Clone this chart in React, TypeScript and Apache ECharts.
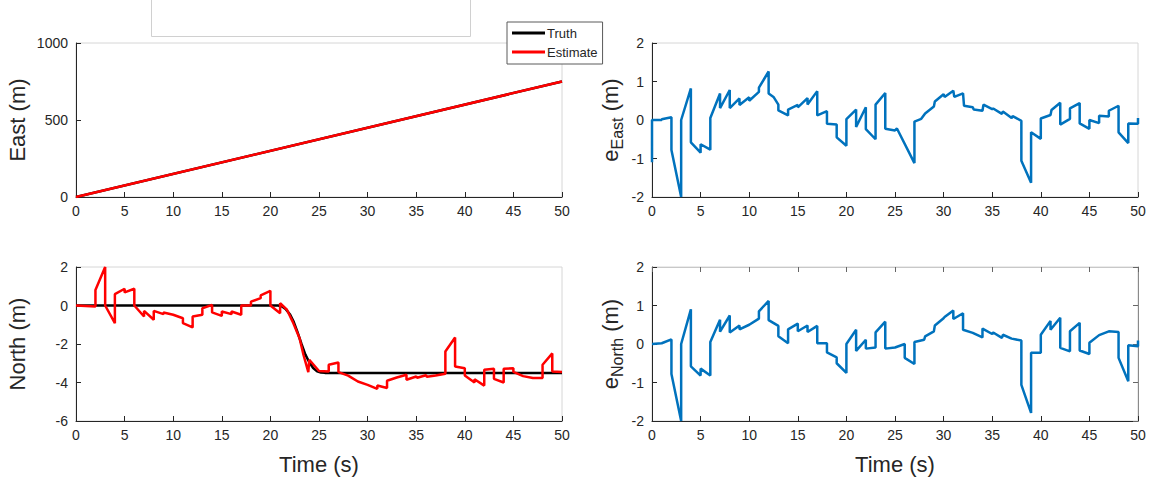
import React, { useEffect, useRef } from "react";
import * as echarts from "echarts";

// ---- data (time s, value m) ----
const eastTruth: number[][] = [[0, 0], [50, 750]];
const eastEstimate: number[][] = [[0, 0], [50, 750]];

const northTruth: number[][] = [
  [0, 0], [20.8, 0], [21.2, -0.05], [21.6, -0.2], [22, -0.45], [22.4, -0.85], [22.8, -1.4],
  [23.2, -2.0], [23.6, -2.55], [24, -2.95], [24.4, -3.25], [24.8, -3.42], [25.2, -3.48],
  [25.6, -3.5], [50, -3.5],
];

const northEstimate: number[][] = [
  [0, 0], [2, -0.05], [2, 0.81], [3, 2.0], [3, 0], [4, -0.92], [4, 0.59], [5, 0.87], [5, 0.68],
  [6, 0.87], [6, 0], [7, -0.57], [7, -0.28], [8, -0.74], [8, -0.28], [9, -0.45], [9, -0.36],
  [10, -0.48], [11, -0.66], [11, -0.92], [12, -1.14], [12, -0.57], [13, -0.48], [13, -0.14],
  [14, 0.03], [14, -0.36], [15, -0.54], [15, -0.31], [16, -0.45], [16, -0.31], [17, -0.48],
  [17, 0], [18, 0], [18, 0.2], [19, 0.38], [19, 0.52], [20, 0.76], [20, 0], [21, -0.4],
  [21, 0.12], [21.7, -0.22], [22.3, -0.85], [23, -1.7], [23.4, -2.56], [23.9, -3.46],
  [24, -2.82], [25, -3.4], [26, -3.43], [26, -3.08], [27, -2.96], [27, -3.46], [28, -3.64],
  [29, -3.95], [30, -4.12], [31, -4.33], [31, -4.16], [32, -4.29], [32, -3.91], [33, -3.74],
  [34, -3.6], [34, -3.86], [35, -3.69], [35.1, -3.75], [36, -3.62], [36.1, -3.7], [37, -3.64],
  [38, -3.55], [38, -2.39], [39, -1.66], [39, -3.17], [40, -3.26], [40, -3.64], [41, -4.0],
  [41, -3.83], [42, -4.16], [42, -3.34], [43, -3.29], [43, -3.81], [44, -4.0], [44, -3.29],
  [45, -3.26], [45, -3.45], [46, -3.67], [47, -3.77], [48, -3.77], [48, -3.08], [49, -2.49],
  [49, -3.43], [50, -3.46],
];

const eEast: number[][] = [
  [0, -1.1], [0, 0], [1, 0], [1, 0.02], [2, 0.07], [2, -0.78], [3, -2.0], [3, 0], [4, 0.82],
  [4, -0.58], [5, -0.85], [5, -0.63], [6, -0.77], [6, 0.05], [7, 0.69], [7, 0.31], [8, 0.78],
  [8, 0.31], [9, 0.56], [9, 0.39], [10, 0.59], [10, 0.5], [11, 0.73], [11, 0.84], [12, 1.26],
  [12, 0.69], [12.5, 0.6], [13, 0.4], [13, 0.25], [14, 0.12], [14, 0.27], [15, 0.39], [15, 0.33],
  [16, 0.57], [16, 0.4], [17, 0.75], [17, 0.12], [18, 0.23], [18, -0.1], [19, -0.12], [19, -0.45],
  [20, -0.67], [20, 0.02], [21, 0.27], [21, -0.18], [22, 0.33], [22, -0.24], [23, -0.5],
  [23, 0.4], [24, 0.7], [24, -0.23], [25, -0.27], [25.2, -0.22], [27, -1.12], [27, -0.04],
  [27.7, 0.03], [28.1, 0.17], [29, 0.35], [29.1, 0.48], [30, 0.67], [30.1, 0.6], [31, 0.76],
  [31.1, 0.6], [32, 0.69], [32.1, 0.37], [33, 0.33], [33.1, 0.27], [34, 0.24], [34.1, 0.4],
  [35, 0.28], [35.1, 0.3], [36, 0.16], [36.1, 0.22], [37, 0.05], [37.1, 0.1], [38, -0.02],
  [38, -1.06], [39, -1.63], [39, -0.32], [40, -0.49], [40, 0.04], [41, 0.13], [41.1, 0.26],
  [42, 0.45], [42, -0.12], [43, 0.03], [43, 0.3], [44, 0.44], [44, -0.09], [45, -0.23], [45, 0],
  [46, -0.08], [46, 0.11], [47, 0.09], [47, 0.24], [48, 0.37], [48, -0.32], [49, -0.6],
  [49, -0.09], [50, -0.1], [50, 0.05],
];

const eNorth: number[][] = [
  [0, 0], [1, 0.02], [2, 0.12], [2, -0.78], [3, -2.0], [3, 0], [4, 0.9], [4, -0.58], [5, -0.82],
  [5, -0.64], [6, -0.82], [6, 0.05], [7, 0.63], [7, 0.32], [8, 0.74], [8, 0.3], [9, 0.48],
  [9, 0.38], [10, 0.5], [11, 0.66], [11, 0.85], [12, 1.12], [12, 0.62], [13, 0.47], [13, 0.2],
  [14, 0.02], [14, 0.38], [15, 0.53], [15, 0.33], [16, 0.48], [16, 0.31], [17, 0.47], [17, 0.02],
  [18, 0.02], [18, -0.22], [19, -0.35], [19, -0.5], [20, -0.75], [20, 0], [21, 0.37], [21, -0.18],
  [22, 0.11], [22, -0.12], [23, -0.09], [23, 0.3], [24, 0.58], [24, -0.12], [25, -0.09], [26, 0],
  [26, -0.36], [27, -0.52], [27, 0.05], [28, 0.11], [28.1, 0.2], [29, 0.33], [29.1, 0.48],
  [30, 0.67], [30.1, 0.7], [31, 0.87], [31, 0.65], [32, 0.8], [32, 0.37], [33, 0.29], [34, 0.17],
  [34, 0.4], [35, 0.26], [35.1, 0.3], [36, 0.16], [36.1, 0.24], [37, 0.14], [38, 0.09],
  [38, -1.06], [39, -1.79], [39, -0.23], [40, -0.23], [40, 0.24], [41, 0.6], [41, 0.37],
  [42, 0.68], [42, -0.1], [43, -0.19], [43, 0.33], [44, 0.55], [44, -0.17], [45, -0.26],
  [45, 0.03], [46, 0.23], [47, 0.33], [48, 0.31], [48, -0.36], [49, -0.97], [49, -0.03],
  [50, -0.06], [50, 0.09],
];

const timeRange = [0, 50, 5];
const eastRange = [0, 1000, 500];
const northRange = [-6, 2, 2];
const errRange = [-2, 2, 1];

const FONT = '"Liberation Sans", Arial, Helvetica, sans-serif';
const INK = "#262626";
const BLUE = "#0072BD";

export default function App() {
  const ref = useRef<HTMLDivElement>(null);

  useEffect(() => {
    if (!ref.current) return;
    const chart = echarts.init(ref.current, null, { renderer: "svg" });

    const gridPos = [
      { left: 76, top: 43 },
      { left: 76, top: 267 },
      { left: 652, top: 43 },
      { left: 652, top: 267 },
    ];
    const grid = gridPos.map((g) => ({
      left: g.left,
      top: g.top,
      width: 486,
      height: 154,
      show: true,
      borderColor: "#d6d6d6",
      borderWidth: 1,
      backgroundColor: "#ffffff",
      containLabel: false,
    }));

    const plain = (v: number) => String(v);

    const mkX = (i: number) => ({
      type: "value",
      gridIndex: i,
      min: timeRange[0],
      max: timeRange[1],
      interval: timeRange[2],
      axisLine: { show: true, onZero: false, lineStyle: { color: INK, width: 1 } },
      axisTick: { show: true, inside: true, length: 5, lineStyle: { color: INK } },
      axisLabel: { color: INK, fontSize: 14, fontFamily: FONT, margin: 7, formatter: plain },
      splitLine: { show: false },
    });
    const mkY = (i: number, r: number[]) => ({
      type: "value",
      gridIndex: i,
      min: r[0],
      max: r[1],
      interval: r[2],
      axisLine: { show: true, onZero: false, lineStyle: { color: INK, width: 1 } },
      axisTick: { show: true, inside: true, length: 5, lineStyle: { color: INK } },
      axisLabel: { color: INK, fontSize: 14, fontFamily: FONT, margin: 8, formatter: plain },
      splitLine: { show: false },
    });

    const xAxis: any[] = [mkX(0), mkX(1), mkX(2), mkX(3)];
    const yAxis: any[] = [mkY(0, eastRange), mkY(1, northRange), mkY(2, errRange), mkY(3, errRange)];
    // box ticks on the bottom-right panel
    xAxis.push({
      ...mkX(3),
      position: "top",
      axisLine: { show: true, onZero: false, lineStyle: { color: "#c8c8c8", width: 1 } },
      axisTick: { show: true, inside: true, length: 5, lineStyle: { color: "#666" } },
      axisLabel: { show: false },
    });
    yAxis.push({
      ...mkY(3, errRange),
      position: "right",
      axisLine: { show: true, onZero: false, lineStyle: { color: "#8a8a8a", width: 1 } },
      axisTick: { show: true, inside: true, length: 5, lineStyle: { color: "#666" } },
      axisLabel: { show: false },
    });

    const line = (name: string, data: number[][], idx: number, color: string, z: number) => ({
      name,
      type: "line",
      xAxisIndex: idx,
      yAxisIndex: idx,
      data,
      symbol: "none",
      showSymbol: false,
      smooth: false,
      z,
      lineStyle: { color, width: 2.5 },
      itemStyle: { color },
    });

    const rotLabel = (x: number, y: number, text: string) => ({
      type: "text",
      x,
      y,
      rotation: Math.PI / 2,
      style: {
        text,
        font: `22px ${FONT}`,
        fill: INK,
        align: "center",
        verticalAlign: "middle",
      },
    });

    const subLabel = (x: number, y: number, sub: string, subW: number) => {
      const eW = 12.2;
      const mW = 39.1;
      const W = eW + subW + mW;
      const x0 = -W / 2;
      return {
        type: "group",
        x,
        y,
        rotation: Math.PI / 2,
        children: [
          {
            type: "text",
            x: x0,
            y: 0,
            style: { text: "e", font: `22px ${FONT}`, fill: INK, align: "left", verticalAlign: "middle" },
          },
          {
            type: "text",
            x: x0 + eW,
            y: 7,
            style: { text: sub, font: `16px ${FONT}`, fill: INK, align: "left", verticalAlign: "middle" },
          },
          {
            type: "text",
            x: x0 + eW + subW,
            y: 0,
            style: { text: " (m)", font: `22px ${FONT}`, fill: INK, align: "left", verticalAlign: "middle" },
          },
        ],
      };
    };

    chart.setOption({
      animation: false,
      backgroundColor: "#ffffff",
      textStyle: { fontFamily: FONT },
      grid,
      xAxis,
      yAxis,
      legend: {
        data: [
          { name: "Truth", icon: "rect" },
          { name: "Estimate", icon: "rect" },
        ],
        orient: "vertical",
        left: 507,
        top: 22,
        padding: [3, 5, 4, 5],
        itemGap: 3,
        itemWidth: 33,
        itemHeight: 3,
        backgroundColor: "#ffffff",
        borderColor: "#5a5a5a",
        borderWidth: 1,
        borderRadius: 0,
        selectedMode: false,
        textStyle: { color: INK, fontSize: 13, fontFamily: FONT, lineHeight: 16, padding: [0, 0, 0, -3] },
      },
      graphic: [
        {
          type: "rect",
          shape: { x: 151.5, y: -2, width: 319, height: 38.5 },
          style: { fill: "none", stroke: "#d0d0d0", lineWidth: 1 },
        },
        rotLabel(17, 120, "East (m)"),
        rotLabel(17, 344, "North (m)"),
        subLabel(610, 120, "East", 32),
        subLabel(610, 344, "North", 39.1),
        {
          type: "text",
          x: 319,
          y: 464,
          style: { text: "Time (s)", font: `22px ${FONT}`, fill: INK, align: "center", verticalAlign: "middle" },
        },
        {
          type: "text",
          x: 895,
          y: 464,
          style: { text: "Time (s)", font: `22px ${FONT}`, fill: INK, align: "center", verticalAlign: "middle" },
        },
      ],
      series: [
        line("Truth", eastTruth, 0, "#000000", 2),
        line("Estimate", eastEstimate, 0, "#ff0000", 3),
        line("Truth", northTruth, 1, "#000000", 2),
        line("Estimate", northEstimate, 1, "#ff0000", 3),
        line("eEast", eEast, 2, BLUE, 2),
        line("eNorth", eNorth, 3, BLUE, 2),
      ],
    });

    return () => chart.dispose();
  }, []);

  return (
    <div
      ref={ref}
      style={{ position: "absolute", left: 0, top: 0, width: 1152, height: 481, background: "#fff" }}
    />
  );
}
